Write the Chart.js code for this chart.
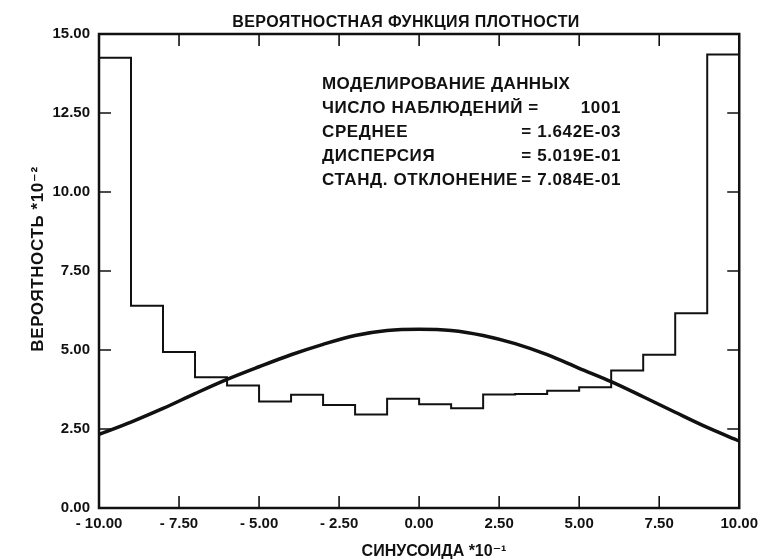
<!DOCTYPE html>
<html>
<head>
<meta charset="utf-8">
<script src="https://cdn.jsdelivr.net/npm/chart.js@4/dist/chart.umd.min.js"></script>
<style>
  html, body { margin: 0; padding: 0; background: #ffffff; }
  #wrap { width: 765px; height: 560px; position: relative; }
</style>
</head>
<body>
<div id="wrap"><canvas id="c"></canvas></div>
<script>
// ---------- data ----------
const binEdges = [-10, -9, -8, -7, -6, -5, -4, -3, -2, -1, 0, 1, 2, 3, 4, 5, 6, 7, 8, 9, 10];
const binValues = [14.25, 6.40, 4.94, 4.14, 3.88, 3.37, 3.58, 3.26, 2.96, 3.46,
                   3.28, 3.16, 3.59, 3.61, 3.71, 3.82, 4.35, 4.85, 6.16, 14.35];
const curveX = [-10, -9, -8, -7, -6, -5, -4, -3, -2, -1, 0, 1, 2, 3, 4, 5, 6, 7, 8, 9, 10];
const curveY = [2.33, 2.72, 3.15, 3.62, 4.07, 4.47, 4.85, 5.18, 5.46, 5.62, 5.66,
                5.62, 5.46, 5.20, 4.85, 4.42, 4.00, 3.52, 3.03, 2.55, 2.12];
const xTickValues = [-10, -7.5, -5, -2.5, 0, 2.5, 5, 7.5, 10];
const xTickLabels = ["- 10.00", "- 7.50", "- 5.00", "- 2.50", "0.00", "2.50", "5.00", "7.50", "10.00"];
const yTickValues = [0, 2.5, 5, 7.5, 10, 12.5, 15];
const yTickLabels = ["0.00", "2.50", "5.00", "7.50", "10.00", "12.50", "15.00"];
const titleText = "ВЕРОЯТНОСТНАЯ ФУНКЦИЯ ПЛОТНОСТИ";
const xTitleText = "СИНУСОИДА *10⁻¹";
const yTitleText = "ВЕРОЯТНОСТЬ *10⁻²";
const boxHeading = "МОДЕЛИРОВАНИЕ ДАННЫХ";
const statLabels = ["ЧИСЛО НАБЛЮДЕНИЙ =", "СРЕДНЕЕ", "ДИСПЕРСИЯ", "СТАНД. ОТКЛОНЕНИЕ"];
const statValues = ["1001", "= 1.642E-03", "= 5.019E-01", "= 7.084E-01"];

// ---------- build datasets ----------
const histPoints = [{ x: binEdges[0], y: 0 }];
binValues.forEach((v, i) => histPoints.push({ x: binEdges[i], y: v }));
histPoints.push({ x: binEdges[binEdges.length - 1], y: binValues[binValues.length - 1] });
histPoints.push({ x: binEdges[binEdges.length - 1], y: 0 });
const curvePoints = curveX.map((x, i) => ({ x: x, y: curveY[i] }));

const FONT = "'Liberation Sans', Arial, 'DejaVu Sans', sans-serif";
const INK = '#111111';

const framePlugin = {
  id: 'frame',
  afterDraw(chart) {
    const ctx = chart.ctx;
    const a = chart.chartArea;
    const xs = chart.scales.x, ys = chart.scales.y;
    const tl = 12;
    ctx.save();
    ctx.strokeStyle = INK;
    ctx.lineWidth = 2.5;
    ctx.strokeRect(a.left, a.top, a.right - a.left, a.bottom - a.top);
    ctx.lineWidth = 1.6;
    ctx.beginPath();
    xTickValues.slice(1, -1).forEach(v => {
      const px = xs.getPixelForValue(v);
      ctx.moveTo(px, a.bottom); ctx.lineTo(px, a.bottom - tl);
      ctx.moveTo(px, a.top); ctx.lineTo(px, a.top + tl);
    });
    yTickValues.slice(1, -1).forEach(v => {
      const py = ys.getPixelForValue(v);
      ctx.moveTo(a.left, py); ctx.lineTo(a.left + tl, py);
      ctx.moveTo(a.right, py); ctx.lineTo(a.right - tl, py);
    });
    ctx.stroke();

    ctx.fillStyle = INK;
    ctx.textBaseline = 'alphabetic';
    // title
    ctx.font = 'bold 16px ' + FONT;
    ctx.letterSpacing = '0.4px';
    ctx.textAlign = 'center';
    ctx.fillText(titleText, 406, 27);
    // x axis title
    ctx.letterSpacing = '0px';
    ctx.fillText(xTitleText, 434, 556);
    // y axis title
    ctx.save();
    ctx.font = 'bold 17px ' + FONT;
    ctx.letterSpacing = '0.6px';
    ctx.translate(43, 259);
    ctx.rotate(-Math.PI / 2);
    ctx.fillText(yTitleText, 0, 0);
    ctx.restore();

    // statistics block
    const lx = 322, rx = 621;
    const base = [89, 113, 137, 161, 185];
    ctx.font = 'bold 17px ' + FONT;
    ctx.letterSpacing = '0.4px';
    ctx.textAlign = 'left';
    ctx.fillText(boxHeading, lx, base[0]);
    ctx.letterSpacing = '0.6px';
    statLabels.forEach((t, i) => {
      ctx.textAlign = 'left';
      ctx.fillText(t, lx, base[i + 1]);
      ctx.textAlign = 'right';
      ctx.fillText(statValues[i], rx, base[i + 1]);
    });
    ctx.restore();
  }
};

new Chart(document.getElementById('c'), {
  type: 'line',
  data: {
    datasets: [
      {
        label: 'hist',
        data: histPoints,
        stepped: 'before',
        borderColor: INK,
        borderWidth: 2,
        pointRadius: 0,
        fill: false
      },
      {
        label: 'curve',
        data: curvePoints,
        cubicInterpolationMode: 'monotone',
        borderColor: INK,
        borderWidth: 3.5,
        pointRadius: 0,
        fill: false
      }
    ]
  },
  options: {
    responsive: true,
    maintainAspectRatio: false,
    animation: false,
    events: [],
    layout: { padding: { top: 34, right: 25, left: 0, bottom: 0 } },
    plugins: { legend: { display: false }, tooltip: { enabled: false }, title: { display: false } },
    scales: {
      x: {
        type: 'linear',
        min: -10, max: 10,
        afterBuildTicks: s => { s.ticks = xTickValues.map(v => ({ value: v })); },
        afterFit: s => { s.height = 52; },
        grid: { display: false, drawTicks: false },
        border: { display: false },
        ticks: {
          maxRotation: 0, autoSkip: false, padding: 7,
          color: INK, font: { family: FONT, size: 15, weight: 'bold' },
          callback: (v) => { const i = xTickValues.indexOf(v); return i >= 0 ? xTickLabels[i] : ''; }
        }
      },
      y: {
        min: 0, max: 15,
        afterBuildTicks: s => { s.ticks = yTickValues.map(v => ({ value: v })); },
        afterFit: s => { s.width = 99; },
        grid: { display: false, drawTicks: false },
        border: { display: false },
        ticks: {
          padding: 9,
          color: INK, font: { family: FONT, size: 15, weight: 'bold' },
          callback: (v) => { const i = yTickValues.indexOf(v); return i >= 0 ? yTickLabels[i] : ''; }
        }
      }
    }
  },
  plugins: [framePlugin]
});
</script>
</body>
</html>
